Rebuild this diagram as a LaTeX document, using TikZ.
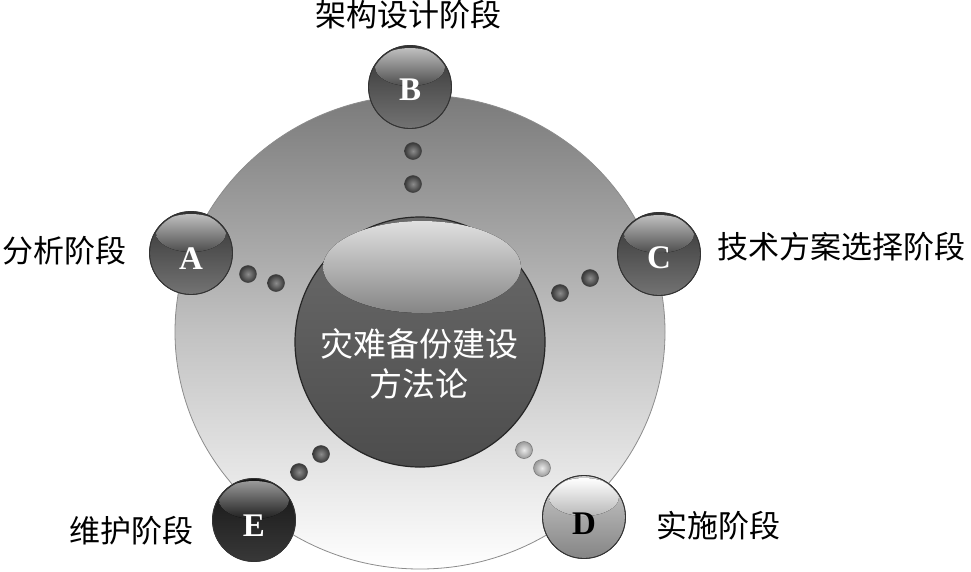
\documentclass[tikz,border=0pt]{standalone}
\usepackage{fontspec}
\setmainfont{Liberation Serif}
\newfontfamily\cjk{Noto Sans CJK SC}
\usetikzlibrary{calc,shapes.geometric}
\begin{document}
\begin{tikzpicture}[x=1pt,y=-1pt,
  lbl/.style={font=\cjk\fontsize{31}{36}\selectfont, text=black, inner sep=0},
  orb/.style 2 args={circle, minimum size=83, inner sep=0, draw=black!80, line width=0.8pt,
     top color=#1, bottom color=#2},
  gloss/.style 2 args={top color=#1, bottom color=#2},
  rim/.style={draw=black!80, line width=0.8pt},
  letter/.style={font=\bfseries\fontsize{33}{33}\selectfont, inner sep=0},
  dot/.style={circle, minimum size=17, inner sep=0, draw=black!75, line width=0.5pt,
     inner color=black!45, outer color=black!78},
  ldot/.style={circle, minimum size=17, inner sep=0, draw=black!55, line width=0.5pt,
     inner color=black!8, outer color=black!40}]
\useasboundingbox (0,0) rectangle (971,571);

% big disk
\node[ellipse, minimum width=490, minimum height=474, inner sep=0, draw=black!45, line width=0.8pt,
      top color=black!52, bottom color=white, middle color=black!24] (disk) at (420,332) {};

% dots
\node[dot] (b1) at (413,151) {};
\node[dot] (b2) at (413,184) {};
\node[dot] (a1) at (248,274) {};
\node[dot] (a2) at (276,283) {};
\node[dot] (c1) at (590,278) {};
\node[dot] (c2) at (560,293) {};
\node[dot] (e1) at (321,454) {};
\node[dot] (e2) at (299,472) {};
\node[ldot] (d1) at (524,450) {};
\node[ldot] (d2) at (542,468) {};

% central sphere
\node[circle, minimum size=250, inner sep=0, draw=black!85, line width=1.2pt,
      top color=black!58, bottom color=black!70] (core) at (420,342) {};
\fill[gloss={white!88!black}{black!48}] (422,267) ellipse (99 and 46);
\node[font=\cjk\fontsize{33}{40}\selectfont, text=white, align=center] (title) at (419,364) {灾难备份建设\\方法论};

% small spheres
\node[orb={black!80}{black!55}] (B) at (410,87) {};
\begin{scope}\clip (410,87) circle (40.5);
\fill[gloss={white!75!black}{black!70}] (410,67) ellipse (35 and 19);\end{scope}
\draw[rim] (410,87) circle (41.5);
\node[letter, text=white] (tB) at (410,90) {B};

\node[orb={black!80}{black!55}] (A) at (191,253) {};
\begin{scope}\clip (191,253) circle (40.5);
\fill[gloss={white!75!black}{black!70}] (191,233) ellipse (35 and 19);\end{scope}
\draw[rim] (191,253) circle (41.5);
\node[letter, text=white] (tA) at (191,259) {A};

\node[orb={black!80}{black!55}] (C) at (659,254) {};
\begin{scope}\clip (659,254) circle (40.5);
\fill[gloss={white!75!black}{black!70}] (659,234) ellipse (35 and 19);\end{scope}
\draw[rim] (659,254) circle (41.5);
\node[letter, text=white] (tC) at (659,258) {C};

\node[orb={black!92}{black!78}] (E) at (254,520) {};
\begin{scope}\clip (254,520) circle (40.5);
\fill[gloss={black!40}{black!88}] (254,500) ellipse (35 and 19);\end{scope}
\draw[rim] (254,520) circle (41.5);
\node[letter, text=white] (tE) at (254,526) {E};

\node[orb={black!20}{black!48}] (D) at (584,517) {};
\begin{scope}\clip (584,517) circle (40.5);
\fill[gloss={white}{black!28}] (584,497) ellipse (35 and 19);\end{scope}
\draw[rim] (584,517) circle (41.5);
\node[letter, text=black] (tD) at (584,524) {D};

% labels
\node[lbl] (lB) at (408,15) {架构设计阶段};
\node[lbl] (lA) at (64,251) {分析阶段};
\node[lbl] (lC) at (841,247) {技术方案选择阶段};
\node[lbl] (lE) at (131,531) {维护阶段};
\node[lbl] (lD) at (718,526) {实施阶段};
\end{tikzpicture}
\end{document}
